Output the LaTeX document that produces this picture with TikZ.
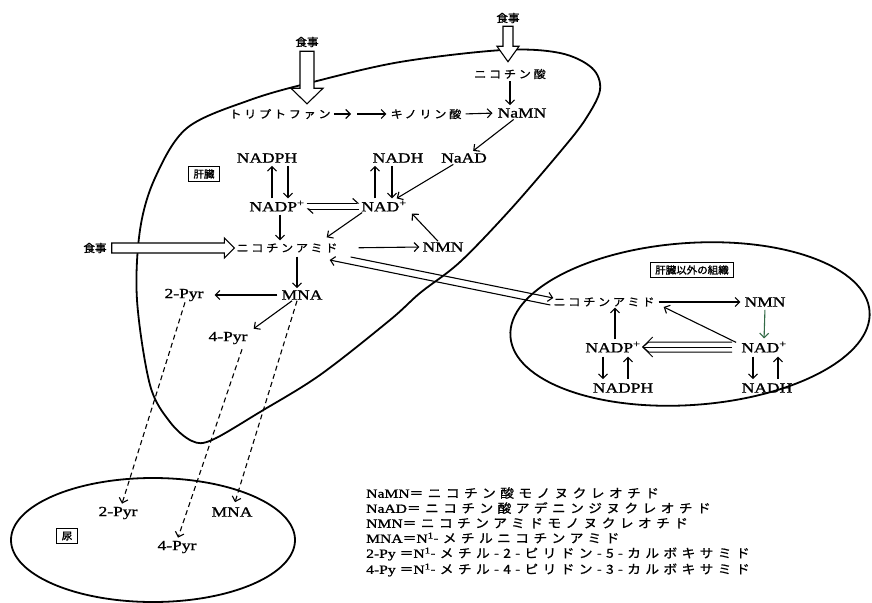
\documentclass[tikz,border=0pt]{standalone}
\usepackage{fontspec}
\setmainfont[FakeStretch=1.25,FakeBold=1.2]{Liberation Serif}
\newfontfamily\jp[FakeStretch=1.1,LetterSpace=25,FakeBold=0.9]{Noto Sans CJK JP}
\newfontfamily\jpl[FakeStretch=1.1,LetterSpace=35,FakeBold=0.9]{Noto Sans CJK JP}
\newfontfamily\jpk[FakeStretch=1.05,FakeBold=1.8]{Noto Sans CJK JP}
\usetikzlibrary{arrows.meta,calc}
\definecolor{dgreen}{rgb}{0.2,0.42,0.28}
\tikzset{
  lat/.style={font=\fontsize{14}{16}\selectfont, inner sep=1pt},
  jpn/.style={font=\jp\fontsize{11}{13}\selectfont, inner sep=1pt},
  jpf/.style={font=\jpk\fontsize{11}{13}\selectfont, inner sep=1pt},
  jbox/.style={draw, line width=1.1pt, font=\jpk\fontsize{10}{12}\selectfont, inner xsep=5pt, inner ysep=3pt},
  leg/.style={font=\fontsize{12.5}{14}\selectfont, anchor=west, inner sep=0pt},
  arr/.style={-{Straight Barb[length=4.5pt,width=9pt,line width=1.1pt]}, line width=1.1pt},
  harp/.style={-{Straight Barb[harpoon,length=5pt,width=9pt,line width=1.1pt]}, line width=1pt},
  dsh/.style={arr, dash pattern=on 5pt off 3.5pt},
  outline/.style={line width=1.8pt},
  blk/.style={draw, line width=1.1pt, fill=white, line join=miter}
}
\begin{document}
\begin{tikzpicture}[x=1pt,y=-1pt]
\useasboundingbox (0,0) rectangle (872,602);
\fill[white] (0,0) rectangle (872,602);

% ---------- outlines ----------
\draw[outline] plot[smooth cycle, tension=0.55] coordinates {
 (187,128) (250,100) (313,82) (400,62) (503,50) (560,53) (592,68) (600,90)
 (585,120) (560,152) (510,210) (460,262) (420,293) (390,320) (320,375)
 (260,412) (212,440) (192,441) (170,422) (150,385) (137,300) (140,230) (155,178)};
\draw[outline, rotate around={4:(690,324)}] (690,324) ellipse [x radius=180, y radius=81];
\draw[outline] (153,540) ellipse [x radius=142, y radius=62];

% ---------- liver nodes ----------
\node[jpf] (foodA) at (307,42) {食事};
\node[jpf] (foodB) at (508,18) {食事};
\node[jpf] (foodC) at (95,248) {食事};
\node[jpn] (nacid) at (510,74) {ニコチン酸};
\node[jpn] (trp) at (280,114) {トリプトファン};
\coordinate (tm) at (354,114);
\node[jpn] (quin) at (426,114) {キノリン酸};
\node[lat] (namn) at (522,113) {NaMN};
\node[lat] (nadph) at (267,158) {NADPH};
\node[lat] (nadh) at (398,158) {NADH};
\node[lat] (naad) at (464,158) {NaAD};
\node[jbox] (liver) at (204,174) {肝臓};
\node[lat] (nadp) at (277,206) {NADP\textsuperscript{+}};
\node[lat] (nad) at (384,206) {NAD\textsuperscript{+}};
\node[jpn] (nam) at (287,248) {ニコチンアミド};
\node[lat] (nmn) at (443,247) {NMN};
\node[lat] (mna) at (302,295) {MNA};
\node[lat] (pyr2) at (184,295) {2-Pyr};
\node[lat] (pyr4) at (228,338) {4-Pyr};

% block arrows (food intake)
\draw[blk] ($(foodA.south)+(-7,3)$) -- ($(foodA.south)+(-7,40)$) -- ($(foodA.south)+(-16,40)$)
  -- ($(trp.north)+(27,-4)$) -- ($(foodA.south)+(16,40)$) -- ($(foodA.south)+(7,40)$)
  -- ($(foodA.south)+(7,3)$) -- cycle;
\draw[blk] ($(foodB.south)+(-5,2)$) -- ($(foodB.south)+(-5,22)$) -- ($(foodB.south)+(-11,22)$)
  -- ($(nacid.north)+(-2,-6)$) -- ($(foodB.south)+(11,22)$) -- ($(foodB.south)+(5,22)$)
  -- ($(foodB.south)+(5,2)$) -- cycle;
\draw[blk] ($(foodC.east)+(4,-5)$) -- ($(nam.west)+(-11,-5)$) -- ($(nam.west)+(-11,-10)$)
  -- ($(nam.west)+(-1,0)$) -- ($(nam.west)+(-11,10)$) -- ($(nam.west)+(-11,5)$)
  -- ($(foodC.east)+(4,5)$) -- cycle;

% liver arrows
\draw[arr, shorten <=1pt, shorten >=2pt] (nacid) -- (namn.north -| nacid);
\draw[arr, shorten <=2pt, shorten >=3pt] (trp.east) -- (tm);
\draw[arr, shorten <=3pt, shorten >=3pt] (tm) -- (quin.west);
\draw[arr, shorten <=3pt, shorten >=4pt] (quin.east) -- (namn.west);
\draw[arr, shorten <=1pt, shorten >=2pt] (namn) -- (naad);
\draw[arr, shorten <=1pt, shorten >=2pt] (naad) -- (nad);
\draw[arr, shorten <=1pt, shorten >=2pt] ($(nadp.north)+(-5,0)$) -- ($(nadph.south)+(5,0)$);
\draw[arr, shorten <=2pt, shorten >=1pt] ($(nadph.south)+(21,0)$) -- ($(nadp.north)+(11,0)$);
\draw[arr, shorten <=1pt, shorten >=2pt] ($(nad.north)+(-9,0)$) -- ($(nadh.south)+(-23,0)$);
\draw[arr, shorten <=2pt, shorten >=1pt] ($(nadh.south)+(-6,0)$) -- ($(nad.north)+(8,0)$);
\draw[harp] ($(nadp.east)+(1,-3)$) -- ($(nad.west)+(-1,-3)$);
\draw[harp] ($(nad.west)+(-1,3)$) -- ($(nadp.east)+(1,3)$);
\draw[arr] ($(nmn.north)+(-5,0)$) -- ($(nad.south east)+(4,1)$);
\draw[arr] ($(nad.south west)+(2,0)$) -- ($(nam.north east)+(-12,-5)$);
\draw[arr] ($(nadp.south)+(3,2)$) -- ($(nam.north)+(-7,-2)$);
\draw[arr, shorten <=20pt, shorten >=2pt] (nam.east) -- (nmn.west);
\draw[arr] ($(nam.south)+(10,3)$) -- ($(mna.north)+(-5,-1)$);
\draw[arr, shorten <=3pt, shorten >=10pt] (mna.west) -- (pyr2.east);
\draw[arr] ($(mna.south)+(-10,0)$) -- ($(pyr4.north east)+(5,-2)$);

% ---------- other tissues ----------
\node[jbox] (other) at (692,270) {肝臓以外の組織};
\node[jpn] (nam2) at (604,302) {ニコチンアミド};
\node[lat] (nmn2) at (765,302) {NMN};
\node[lat] (nadp2) at (613,347) {NADP\textsuperscript{+}};
\node[lat] (nad2) at (764,347) {NAD\textsuperscript{+}};
\node[lat] (nadph2) at (623,388) {NADPH};
\node[lat] (nadh2) at (767,388) {NADH};

\draw[arr, shorten <=3pt, shorten >=3pt] (nam2.east) -- (nmn2.west);
\draw[arr, dgreen, shorten <=2pt, shorten >=2pt] (nmn2.south) -- (nad2.north);
\draw[arr] ($(nad2.north west)+(-4,2)$) -- ($(nam2.east)+(8,5)$);
\draw[arr, shorten <=1pt] ($(nadp2.north)+(2,0)$) -- ($(nam2.south)+(11,0)$);
\draw[line width=1pt] ($(nad2.west)+(-8,-5)$) -- ($(nadp2.east)+(7,-5)$) -- ($(nadp2.east)+(1,0)$);
\draw[line width=1pt] ($(nad2.west)+(-8,0)$) -- ($(nadp2.east)+(1,0)$);
\draw[line width=1pt] ($(nad2.west)+(-8,5)$) -- ($(nadp2.east)+(7,5)$) -- ($(nadp2.east)+(1,0)$);
\draw[line width=1pt] ($(nadp2.east)+(11,-10)$) -- ($(nadp2.east)+(1,0)$) -- ($(nadp2.east)+(11,10)$);
\draw[arr, shorten <=3pt, shorten >=3pt] ($(nadp2.south)+(-10,0)$) -- ($(nadph2.north)+(-20,0)$);
\draw[arr, shorten <=3pt, shorten >=3pt] ($(nadph2.north)+(5,0)$) -- ($(nadp2.south)+(15,0)$);
\draw[arr, shorten <=3pt, shorten >=3pt] ($(nad2.south)+(-11,0)$) -- ($(nadh2.north)+(-14,0)$);
\draw[arr, shorten <=3pt, shorten >=3pt] ($(nadh2.north)+(11,0)$) -- ($(nad2.south)+(14,0)$);

% exchange between liver and other tissues
\draw[arr] ($(nam.east)+(12,9)$) -- ($(nam2.west)+(1,-4)$);
\draw[arr] ($(nam2.west)+(-2,3)$) -- ($(nam.east)+(-9,12)$);

% ---------- urine ----------
\node[jbox] (urine) at (67,536) {尿};
\node[lat] (u2) at (118,513) {2-Pyr};
\node[lat] (umna) at (232,512) {MNA};
\node[lat] (u4) at (177,547) {4-Pyr};
\draw[dsh] ($(pyr2.south)+(1,0)$) -- ($(u2.north)+(4,-2)$);
\draw[dsh] ($(pyr4.south)+(14,4)$) -- ($(u4.north)+(1,-2)$);
\draw[dsh] ($(mna.south)+(-5,0)$) -- ($(umna.north)+(3,-4)$);

% ---------- legend ----------
\node[leg] (l1) at (366,493) {NaMN{\jpl ＝ニコチン酸モノヌクレオチド}};
\node[leg] (l2) at (366,508) {NaAD{\jpl ＝ニコチン酸アデニンジヌクレオチド}};
\node[leg] (l3) at (366,523) {NMN{\jpl ＝ニコチンアミドモノヌクレオチド}};
\node[leg] (l4) at (366,538) {MNA{\jpl ＝}N\textsuperscript{1}{\jpl -メチルニコチンアミド}};
\node[leg] (l5) at (366,554) {2-Py {\jpl ＝}N\textsuperscript{1}{\jpl -メチル-2-ピリドン-5-カルボキサミド}};
\node[leg] (l6) at (366,570) {4-Py {\jpl ＝}N\textsuperscript{1}{\jpl -メチル-4-ピリドン-3-カルボキサミド}};
\end{tikzpicture}
\end{document}
